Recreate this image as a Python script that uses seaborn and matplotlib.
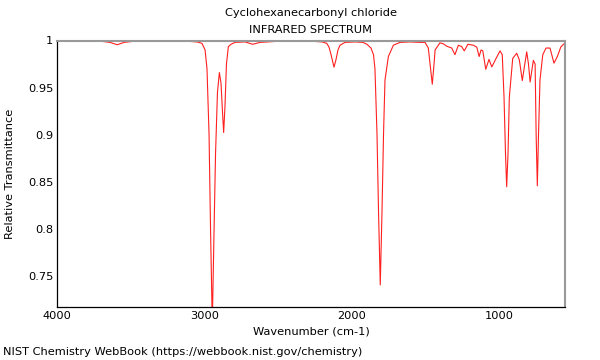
import numpy as np
import pandas as pd
import seaborn as sns
from matplotlib import pyplot as plt
from matplotlib.ticker import MultipleLocator, FuncFormatter

# spectrum (wavenumber in cm-1, relative transmittance)
wavenumber = [
    4000, 3846, 3710, 3642, 3593, 3547, 3473, 3303, 3167, 3099, 3052, 3018, 2997,
    2984, 2970, 2960, 2948, 2936, 2926, 2913, 2900, 2889, 2879, 2871, 2862, 2852,
    2839, 2821, 2794, 2726, 2674, 2624, 2488, 2353, 2251, 2203, 2171, 2156, 2142,
    2122, 2108, 2095, 2081, 2047, 1979, 1925, 1898, 1871, 1854, 1844, 1830, 1820,
    1808, 1796, 1786, 1776, 1753, 1719, 1674, 1606, 1538, 1504, 1482, 1470, 1455,
    1443, 1436, 1403, 1380, 1357, 1323, 1301, 1278, 1255, 1238, 1213, 1176, 1153,
    1137, 1124, 1112, 1092, 1070, 1051, 1022, 995, 980, 968, 958, 950, 941, 932,
    909, 882, 864, 844, 830, 814, 802, 791, 769, 757, 750, 742, 734, 724, 705,
    683, 656, 629, 606, 583, 565, 552,
]
transmittance = [
    0.9995, 0.999, 0.9993, 0.998, 0.9955, 0.998, 0.9993, 0.9995, 0.9993, 0.999, 0.9985, 0.997, 0.99,
    0.97, 0.90, 0.80, 0.70, 0.80, 0.88, 0.945, 0.966, 0.955, 0.925, 0.9025, 0.93, 0.975,
    0.9935, 0.996, 0.998, 0.9985, 0.996, 0.998, 0.9993, 0.9993, 0.999, 0.9985, 0.997, 0.993, 0.985,
    0.9717, 0.98, 0.99, 0.995, 0.998, 0.9985, 0.998, 0.996, 0.992, 0.985, 0.97, 0.90, 0.82,
    0.741, 0.82, 0.90, 0.958, 0.983, 0.995, 0.998, 0.9985, 0.998, 0.998, 0.992, 0.975, 0.9537,
    0.975, 0.99, 0.9975, 0.9965, 0.994, 0.992, 0.985, 0.995, 0.9935, 0.989, 0.996, 0.995, 0.993,
    0.983, 0.99, 0.989, 0.9695, 0.980, 0.972, 0.981, 0.989, 0.985, 0.94, 0.88, 0.845, 0.88, 0.94,
    0.981, 0.9865, 0.9794, 0.9575, 0.972, 0.988, 0.975, 0.956, 0.979, 0.975, 0.90, 0.846, 0.90, 0.958, 0.985,
    0.992, 0.992, 0.976, 0.983, 0.993, 0.996, 0.997,
]

df = pd.DataFrame({'wavenumber': wavenumber, 'transmittance': transmittance})

sns.set_style('white')
plt.rcParams['font.family'] = ['DejaVu Sans']
plt.rcParams['text.color'] = 'black'
plt.rcParams['axes.labelcolor'] = 'black'

fig = plt.figure(figsize=(6, 3.6), dpi=100)
ax = fig.add_axes([0.0955, 0.147, 0.8467, 0.7405])

sns.lineplot(data=df, x='wavenumber', y='transmittance', ax=ax,
             color='#ff2020', linewidth=0.8, estimator=None)

ax.set_xlim(4000, 552)
ax.set_ylim(0.7175, 1.0)

ax.xaxis.set_major_locator(MultipleLocator(1000))
ax.xaxis.set_minor_locator(MultipleLocator(100))
ax.yaxis.set_major_locator(MultipleLocator(0.05))
ax.yaxis.set_minor_locator(MultipleLocator(0.01))
ax.yaxis.set_major_formatter(FuncFormatter(lambda v, p: '%g' % round(v, 3)))

ax.tick_params(which='both', direction='in', top=False, right=False,
               labelsize=8.2, colors='black', pad=3)
ax.tick_params(which='major', length=5, width=0.8)
ax.tick_params(which='minor', length=2.5, width=0.6)

for side in ['left', 'bottom']:
    ax.spines[side].set_color('black')
    ax.spines[side].set_linewidth(0.9)
for side in ['top', 'right']:
    ax.spines[side].set_color('#999999')
    ax.spines[side].set_linewidth(1.5)

ax.set_xlabel('Wavenumber (cm-1)', fontsize=8.2, labelpad=4)
ax.set_ylabel('Relative Transmittance', fontsize=8.2, labelpad=9)

fig.text(0.518, 0.965, 'Cyclohexanecarbonyl chloride', ha='center', va='center', fontsize=8.2)
fig.text(0.518, 0.917, 'INFRARED SPECTRUM', ha='center', va='center', fontsize=8.2)
fig.text(0.005, 0.022, 'NIST Chemistry WebBook (https://webbook.nist.gov/chemistry)',
         ha='left', va='center', fontsize=8.2)

fig.savefig('out.png', dpi=100)
